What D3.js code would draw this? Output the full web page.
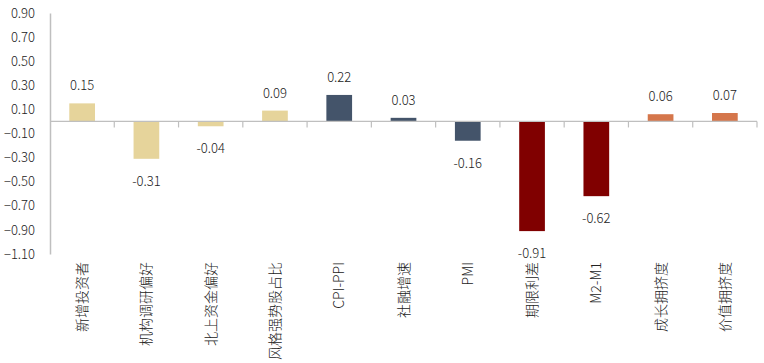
<!DOCTYPE html>
<html>
<head>
<meta charset="utf-8">
<script src="https://cdn.jsdelivr.net/npm/d3@7"></script>
<style>
  body { margin: 0; background: #fff; }
  text { font-family: "Noto Sans CJK SC", "Noto Sans", sans-serif; fill: #222; font-weight: 300; }
</style>
</head>
<body>
<div id="chart"></div>
<script>
// data
var categories = ["新增投资者", "机构调研偏好", "北上资金偏好", "风格强势股占比", "CPI-PPI", "社融增速", "PMI", "期限利差", "M2-M1", "成长拥挤度", "价值拥挤度"];
var values = [0.15, -0.31, -0.04, 0.09, 0.22, 0.03, -0.16, -0.91, -0.62, 0.06, 0.07];
var groups = ["a", "a", "a", "a", "b", "b", "b", "c", "c", "d", "d"];
var yTicks = [0.9, 0.7, 0.5, 0.3, 0.1, -0.1, -0.3, -0.5, -0.7, -0.9, -1.1];

var colors = { a: "#E6D49B", b: "#44546A", c: "#800000", d: "#D5764B" };

var svgWidth = 764, svgHeight = 363;
var margin = { top: 13, left: 50, right: 7, bottom: 109 };
var width = svgWidth - margin.left - margin.right;
var height = svgHeight - margin.top - margin.bottom;

var svg = d3.select("#chart").append("svg")
  .attr("width", svgWidth)
  .attr("height", svgHeight);

var g = svg.append("g")
  .attr("transform", `translate(${margin.left}, ${margin.top})`);

var x = d3.scaleBand().domain(categories).range([0, width]).paddingInner(0.6).paddingOuter(0.3);
var xOuter = d3.scaleBand().domain(categories).range([0, width]);
var y = d3.scaleLinear().domain([-1.1, 0.9]).range([height, 0]);

// y axis
var leftAxis = d3.axisLeft(y).tickValues(yTicks).tickSize(0).tickPadding(15).tickFormat(d3.format(".2f"));
var yAxis = g.append("g").call(leftAxis);
yAxis.select(".domain").attr("stroke", "#bfbfbf").attr("stroke-width", 1.5);
yAxis.selectAll("text").style("font-size", "13px").attr("fill", "#222");

// bars
g.selectAll("rect.bar")
  .data(values)
  .enter()
  .append("rect")
  .attr("class", "bar")
  .attr("x", (d, i) => x(categories[i]))
  .attr("width", x.bandwidth())
  .attr("y", d => y(Math.max(0, d)))
  .attr("height", d => Math.abs(y(d) - y(0)))
  .attr("fill", (d, i) => colors[groups[i]]);

// category axis at zero
var zero = y(0);
g.append("line")
  .attr("x1", 0).attr("x2", width)
  .attr("y1", zero).attr("y2", zero)
  .attr("stroke", "#bfbfbf").attr("stroke-width", 1.2);

var bounds = categories.map(c => xOuter(c) + xOuter.bandwidth());
g.selectAll("line.tick")
  .data(bounds)
  .enter()
  .append("line")
  .attr("class", "tick")
  .attr("x1", d => d).attr("x2", d => d)
  .attr("y1", zero).attr("y2", zero + 6)
  .attr("stroke", "#bfbfbf").attr("stroke-width", 1.2);

// value labels
g.selectAll("text.val")
  .data(values)
  .enter()
  .append("text")
  .attr("class", "val")
  .attr("x", (d, i) => x(categories[i]) + x.bandwidth() / 2)
  .attr("y", d => d >= 0 ? y(d) - 13 : y(d) + 27)
  .attr("text-anchor", "middle")
  .style("font-size", "13px")
  .text(d => d.toFixed(2));

// category labels
g.selectAll("text.cat")
  .data(categories)
  .enter()
  .append("text")
  .attr("class", "cat")
  .attr("transform", d => `translate(${xOuter(d) + xOuter.bandwidth() / 2 + 5}, ${height + 8}) rotate(-90)`)
  .attr("text-anchor", "end")
  .style("font-size", "14px")
  .text(d => d);
</script>
</body>
</html>
